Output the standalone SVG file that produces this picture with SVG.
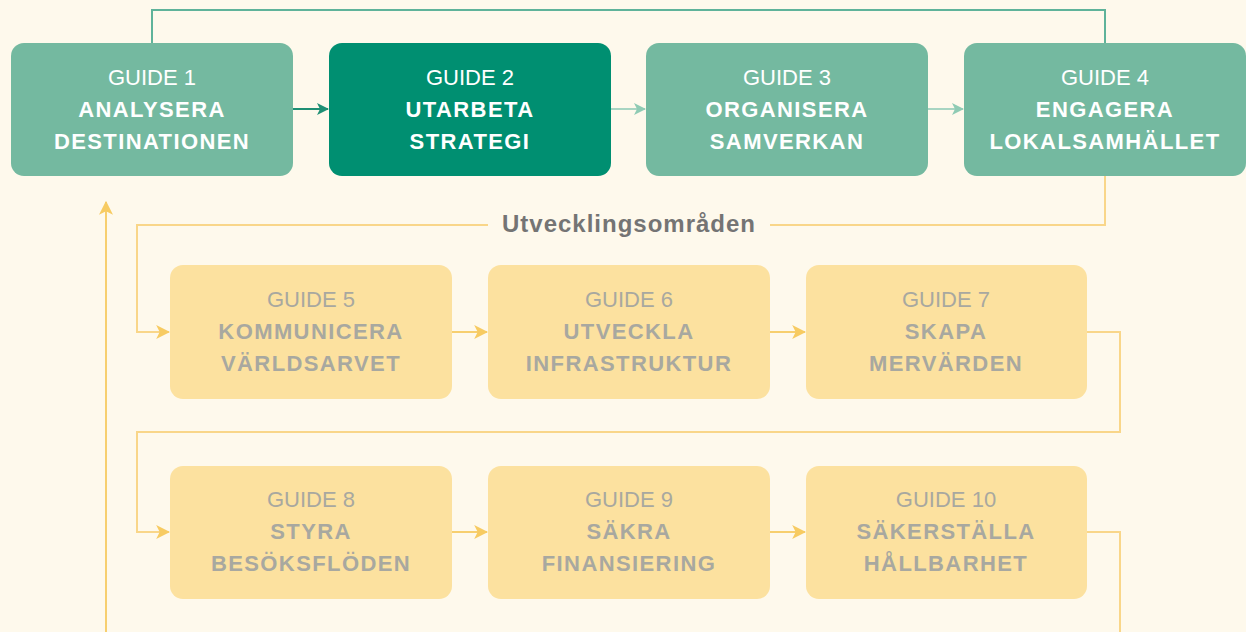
<svg xmlns="http://www.w3.org/2000/svg" width="1246" height="632" viewBox="0 0 1246 632">
<defs>
<style>
.bg{fill:#FEF9EC}
.bt{fill:#74B9A0}
.bd{fill:#008F71}
.by{fill:#FCE19F}
.t{font-family:"Liberation Sans",Arial,sans-serif;font-size:22px;text-anchor:middle}
.g{font-weight:normal}
.b{font-weight:bold;letter-spacing:1.4px}
.w{fill:#FFFFFF}
.gr{fill:#A8A8A0}
.lt{fill:none;stroke:#5FB39A;stroke-width:2}
.ly{fill:none;stroke:#F9D689;stroke-width:2}
.lyd{fill:none;stroke:#F7CF6F;stroke-width:2}
.ad{fill:none;stroke:#1E8F74;stroke-width:2}
.ap{fill:none;stroke:#A8D5C2;stroke-width:2}
.lab{font-family:"Liberation Sans",Arial,sans-serif;font-size:24px;font-weight:bold;letter-spacing:1px;fill:#747474;text-anchor:middle}
</style>
<marker id="mD" viewBox="0 0 12 12" refX="11" refY="6" markerWidth="12" markerHeight="12" markerUnits="userSpaceOnUse" orient="auto"><path d="M0,0 L12,6 L0,12 L3,6 z" fill="#1E8F74"/></marker>
<marker id="mP" viewBox="0 0 12 12" refX="11" refY="6" markerWidth="12" markerHeight="12" markerUnits="userSpaceOnUse" orient="auto"><path d="M0,0 L12,6 L0,12 L3,6 z" fill="#8FCBB4"/></marker>
<marker id="mY" viewBox="0 0 12 12" refX="11" refY="6" markerWidth="14" markerHeight="14" markerUnits="userSpaceOnUse" orient="auto"><path d="M0,0 L12,6 L0,12 L3,6 z" fill="#F7CB62"/></marker>
</defs>
<rect class="bg" x="0" y="0" width="1246" height="632"/>

<g id="connectors">
<polyline class="lt" points="152,43 152,10 1105,10 1105,43"/>
<line class="ad" x1="293" y1="109" x2="328" y2="109" marker-end="url(#mD)"/>
<line class="ap" x1="611" y1="109" x2="645" y2="109" marker-end="url(#mP)"/>
<line class="ap" x1="928" y1="109" x2="963" y2="109" marker-end="url(#mP)"/>
<polyline class="ly" points="1105,176 1105,225 770,225"/>
<polyline class="ly" points="488,225 137,225 137,332 169,332" marker-end="url(#mY)"/>
<line class="lyd" x1="452" y1="332" x2="487" y2="332" marker-end="url(#mY)"/>
<line class="lyd" x1="770" y1="332" x2="805" y2="332" marker-end="url(#mY)"/>
<polyline class="ly" points="1087,332 1120,332 1120,432 137,432 137,532 169,532" marker-end="url(#mY)"/>
<line class="lyd" x1="452" y1="532" x2="487" y2="532" marker-end="url(#mY)"/>
<line class="lyd" x1="770" y1="532" x2="805" y2="532" marker-end="url(#mY)"/>
<polyline class="ly" points="1087,532 1120,532 1120,634"/>
<line class="lyd" x1="106" y1="634" x2="106" y2="202" marker-end="url(#mY)"/>
<text class="lab" x="629" y="232">Utvecklingsområden</text>
</g>

<g id="guide1">
<rect class="bt" x="11" y="43" width="282" height="133" rx="13"/>
<text class="t g w" x="152" y="85">GUIDE 1</text>
<text class="t b w" x="152" y="117">ANALYSERA</text>
<text class="t b w" x="152" y="149">DESTINATIONEN</text>
</g>
<g id="guide2">
<rect class="bd" x="329" y="43" width="282" height="133" rx="13"/>
<text class="t g w" x="470" y="85">GUIDE 2</text>
<text class="t b w" x="470" y="117">UTARBETA</text>
<text class="t b w" x="470" y="149">STRATEGI</text>
</g>
<g id="guide3">
<rect class="bt" x="646" y="43" width="282" height="133" rx="13"/>
<text class="t g w" x="787" y="85">GUIDE 3</text>
<text class="t b w" x="787" y="117">ORGANISERA</text>
<text class="t b w" x="787" y="149">SAMVERKAN</text>
</g>
<g id="guide4">
<rect class="bt" x="964" y="43" width="282" height="133" rx="13"/>
<text class="t g w" x="1105" y="85">GUIDE 4</text>
<text class="t b w" x="1105" y="117">ENGAGERA</text>
<text class="t b w" x="1105" y="149">LOKALSAMHÄLLET</text>
</g>

<g id="guide5">
<rect class="by" x="170" y="265" width="282" height="134" rx="13"/>
<text class="t g gr" x="311" y="307">GUIDE 5</text>
<text class="t b gr" x="311" y="339">KOMMUNICERA</text>
<text class="t b gr" x="311" y="371">VÄRLDSARVET</text>
</g>
<g id="guide6">
<rect class="by" x="488" y="265" width="282" height="134" rx="13"/>
<text class="t g gr" x="629" y="307">GUIDE 6</text>
<text class="t b gr" x="629" y="339">UTVECKLA</text>
<text class="t b gr" x="629" y="371">INFRASTRUKTUR</text>
</g>
<g id="guide7">
<rect class="by" x="806" y="265" width="281" height="134" rx="13"/>
<text class="t g gr" x="946" y="307">GUIDE 7</text>
<text class="t b gr" x="946" y="339">SKAPA</text>
<text class="t b gr" x="946" y="371">MERVÄRDEN</text>
</g>

<g id="guide8">
<rect class="by" x="170" y="466" width="282" height="133" rx="13"/>
<text class="t g gr" x="311" y="507">GUIDE 8</text>
<text class="t b gr" x="311" y="539">STYRA</text>
<text class="t b gr" x="311" y="571">BESÖKSFLÖDEN</text>
</g>
<g id="guide9">
<rect class="by" x="488" y="466" width="282" height="133" rx="13"/>
<text class="t g gr" x="629" y="507">GUIDE 9</text>
<text class="t b gr" x="629" y="539">SÄKRA</text>
<text class="t b gr" x="629" y="571">FINANSIERING</text>
</g>
<g id="guide10">
<rect class="by" x="806" y="466" width="281" height="133" rx="13"/>
<text class="t g gr" x="946" y="507">GUIDE 10</text>
<text class="t b gr" x="946" y="539">SÄKERSTÄLLA</text>
<text class="t b gr" x="946" y="571">HÅLLBARHET</text>
</g>
</svg>
